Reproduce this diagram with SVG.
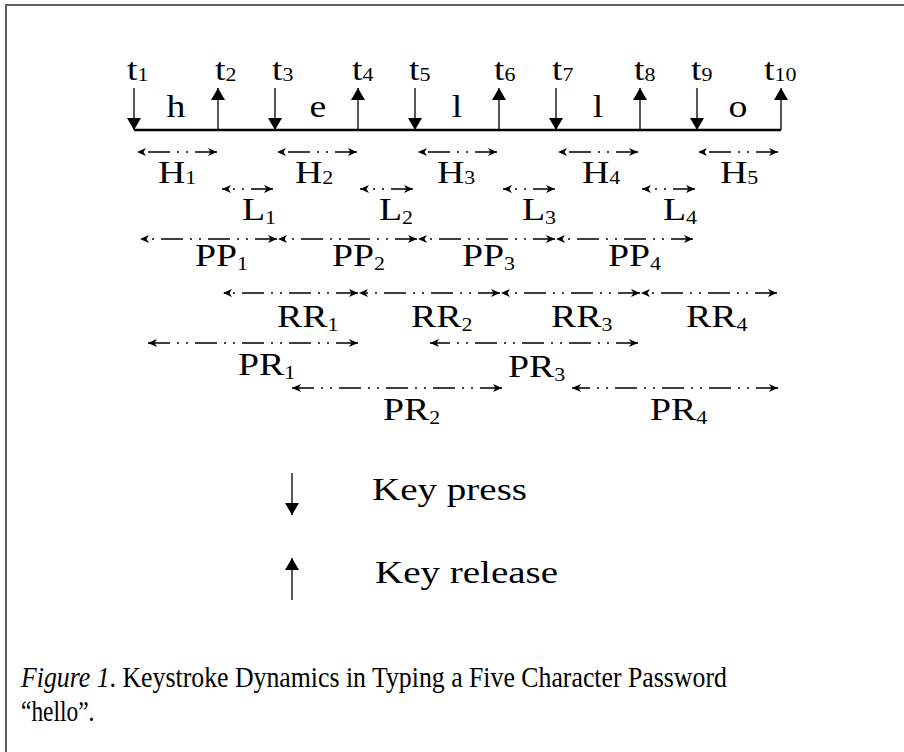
<svg xmlns="http://www.w3.org/2000/svg" width="904" height="752" viewBox="0 0 904 752">
<defs>
<style>
.lb{font-family:"Liberation Serif","Times New Roman",serif;font-size:31px;fill:#000}
.sub{font-size:18px}
.cap{font-family:"Liberation Serif","Times New Roman",serif;font-size:30px;fill:#000}
.key{stroke:#000;stroke-width:1.3;fill:none;marker-end:url(#kh)}
.iv{stroke:#000;stroke-width:1.3;fill:none;stroke-dasharray:22 7 2 7 2 7;marker-start:url(#ih);marker-end:url(#ih)}
</style>
<marker id="kh" markerUnits="userSpaceOnUse" markerWidth="13" markerHeight="14" refX="12" refY="7" orient="auto"><path d="M0,0 L12,7 L0,14 z" fill="#000"/></marker>
<marker id="ih" markerUnits="userSpaceOnUse" markerWidth="10" markerHeight="8" refX="9" refY="4" orient="auto-start-reverse"><path d="M0,0 L9,4 L0,8 L2.5,4 z" fill="#000"/></marker>
</defs>
<rect width="904" height="752" fill="#fff"/>
<g id="frame" stroke="#606060" stroke-width="2" fill="none"><path d="M6,752 V5 H904"/></g>

<g id="timeline">
<line x1="134" y1="130" x2="781" y2="130" stroke="#000" stroke-width="2.6"/>
</g>

<g id="keys">
<g id="t1"><line class="key" x1="134" y1="88" x2="134" y2="130"/><text class="lb" transform="translate(127,80) scale(1.22,1)">t<tspan class="sub" dy="1">1</tspan></text></g>
<g id="t2"><line class="key" x1="218" y1="130" x2="218" y2="88"/><text class="lb" transform="translate(215,80) scale(1.22,1)">t<tspan class="sub" dy="1">2</tspan></text></g>
<g id="t3"><line class="key" x1="275" y1="88" x2="275" y2="130"/><text class="lb" transform="translate(272,80) scale(1.22,1)">t<tspan class="sub" dy="1">3</tspan></text></g>
<g id="t4"><line class="key" x1="358" y1="130" x2="358" y2="88"/><text class="lb" transform="translate(352,80) scale(1.22,1)">t<tspan class="sub" dy="1">4</tspan></text></g>
<g id="t5"><line class="key" x1="415" y1="88" x2="415" y2="130"/><text class="lb" transform="translate(409,80) scale(1.22,1)">t<tspan class="sub" dy="1">5</tspan></text></g>
<g id="t6"><line class="key" x1="499" y1="130" x2="499" y2="88"/><text class="lb" transform="translate(494,80) scale(1.22,1)">t<tspan class="sub" dy="1">6</tspan></text></g>
<g id="t7"><line class="key" x1="556" y1="88" x2="556" y2="130"/><text class="lb" transform="translate(552,80) scale(1.22,1)">t<tspan class="sub" dy="1">7</tspan></text></g>
<g id="t8"><line class="key" x1="640" y1="130" x2="640" y2="88"/><text class="lb" transform="translate(634,80) scale(1.22,1)">t<tspan class="sub" dy="1">8</tspan></text></g>
<g id="t9"><line class="key" x1="697" y1="88" x2="697" y2="130"/><text class="lb" transform="translate(691,80) scale(1.22,1)">t<tspan class="sub" dy="1">9</tspan></text></g>
<g id="t10"><line class="key" x1="781" y1="130" x2="781" y2="88"/><text class="lb" transform="translate(764,80) scale(1.22,1)">t<tspan class="sub" dy="1">10</tspan></text></g>
</g>

<g id="chars" text-anchor="middle">
<text class="lb" transform="translate(176,117) scale(1.22,1)">h</text>
<text class="lb" transform="translate(318,117) scale(1.22,1)">e</text>
<text class="lb" transform="translate(457,117) scale(1.22,1)">l</text>
<text class="lb" transform="translate(598,117) scale(1.22,1)">l</text>
<text class="lb" transform="translate(738,117) scale(1.22,1)">o</text>
</g>

<g id="connectors">
<line class="iv" x1="217" y1="152" x2="137" y2="152"/>
<line class="iv" x1="357" y1="152" x2="277" y2="152"/>
<line class="iv" x1="497" y1="152" x2="418" y2="152"/>
<line class="iv" x1="638" y1="152" x2="558" y2="152"/>
<line class="iv" x1="778" y1="152" x2="698" y2="152"/>
<line class="iv" x1="273" y1="189" x2="222" y2="189"/>
<line class="iv" x1="413" y1="189" x2="360" y2="189"/>
<line class="iv" x1="555" y1="189" x2="503" y2="189"/>
<line class="iv" x1="695" y1="189" x2="642" y2="189"/>
<line class="iv" x1="277" y1="239" x2="140" y2="239"/>
<line class="iv" x1="417" y1="239" x2="278" y2="239"/>
<line class="iv" x1="555" y1="239" x2="418" y2="239"/>
<line class="iv" x1="693" y1="239" x2="556" y2="239"/>
<line class="iv" x1="358" y1="293" x2="223" y2="293"/>
<line class="iv" x1="500" y1="293" x2="359" y2="293"/>
<line class="iv" x1="640" y1="293" x2="501" y2="293"/>
<line class="iv" x1="777" y1="293" x2="641" y2="293"/>
<line class="iv" x1="358" y1="343" x2="148" y2="343"/>
<line class="iv" x1="638" y1="343" x2="430" y2="343"/>
<line class="iv" x1="502" y1="388" x2="292" y2="388"/>
<line class="iv" x1="778" y1="388" x2="572" y2="388"/>
</g>

<g id="labels">
<text class="lb" transform="translate(158,183) scale(1.22,1)">H<tspan class="sub" dy="1">1</tspan></text>
<text class="lb" transform="translate(295,183) scale(1.22,1)">H<tspan class="sub" dy="1">2</tspan></text>
<text class="lb" transform="translate(437,183) scale(1.22,1)">H<tspan class="sub" dy="1">3</tspan></text>
<text class="lb" transform="translate(582,183) scale(1.22,1)">H<tspan class="sub" dy="1">4</tspan></text>
<text class="lb" transform="translate(720,183) scale(1.22,1)">H<tspan class="sub" dy="1">5</tspan></text>
<text class="lb" transform="translate(242,220) scale(1.22,1)">L<tspan class="sub" dy="4">1</tspan></text>
<text class="lb" transform="translate(379,220) scale(1.22,1)">L<tspan class="sub" dy="4">2</tspan></text>
<text class="lb" transform="translate(522,220) scale(1.22,1)">L<tspan class="sub" dy="4">3</tspan></text>
<text class="lb" transform="translate(663,220) scale(1.22,1)">L<tspan class="sub" dy="4">4</tspan></text>
<text class="lb" transform="translate(195,266) scale(1.22,1)">PP<tspan class="sub" dy="4">1</tspan></text>
<text class="lb" transform="translate(332,266) scale(1.22,1)">PP<tspan class="sub" dy="4">2</tspan></text>
<text class="lb" transform="translate(462,266) scale(1.22,1)">PP<tspan class="sub" dy="4">3</tspan></text>
<text class="lb" transform="translate(608,266) scale(1.22,1)">PP<tspan class="sub" dy="4">4</tspan></text>
<text class="lb" transform="translate(277,327) scale(1.22,1)">RR<tspan class="sub" dy="4">1</tspan></text>
<text class="lb" transform="translate(411,327) scale(1.22,1)">RR<tspan class="sub" dy="4">2</tspan></text>
<text class="lb" transform="translate(551,327) scale(1.22,1)">RR<tspan class="sub" dy="4">3</tspan></text>
<text class="lb" transform="translate(686,327) scale(1.22,1)">RR<tspan class="sub" dy="4">4</tspan></text>
<text class="lb" transform="translate(238,375) scale(1.22,1)">PR<tspan class="sub" dy="4">1</tspan></text>
<text class="lb" transform="translate(508,377) scale(1.22,1)">PR<tspan class="sub" dy="4">3</tspan></text>
<text class="lb" transform="translate(383,420) scale(1.22,1)">PR<tspan class="sub" dy="4">2</tspan></text>
<text class="lb" transform="translate(650,420) scale(1.22,1)">PR<tspan class="sub" dy="4">4</tspan></text>
</g>

<g id="legend">
<g id="legend-press"><line class="key" x1="292" y1="473" x2="292" y2="515"/><text class="lb" transform="translate(372,500) scale(1.22,1)" style="font-size:32px">Key press</text></g>
<g id="legend-release"><line class="key" x1="292" y1="600" x2="292" y2="558"/><text class="lb" transform="translate(375,583) scale(1.22,1)" style="font-size:32px">Key release</text></g>
</g>

<g id="caption">
<text class="cap" transform="translate(21,687) scale(0.86,1)"><tspan font-style="italic">Figure 1</tspan>. Keystroke Dynamics in Typing a Five Character Password</text>
<text class="cap" transform="translate(21,721) scale(0.78,1)">“hello”.</text>
</g>
</svg>
